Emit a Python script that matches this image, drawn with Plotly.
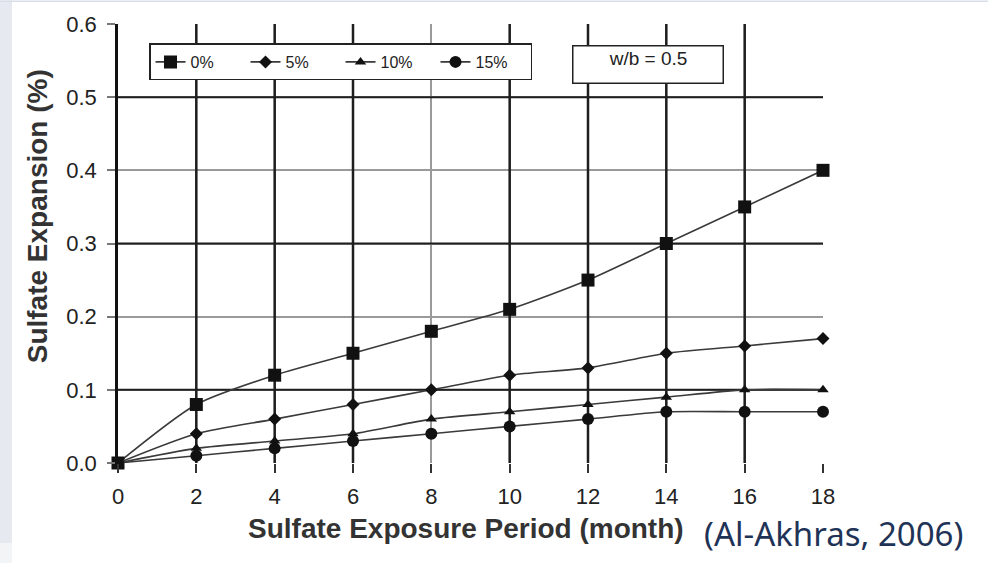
import plotly.graph_objects as go

# ---- data ----
months = [0, 2, 4, 6, 8, 10, 12, 14, 16, 18]
exp_0 = [0.0, 0.08, 0.12, 0.15, 0.18, 0.21, 0.25, 0.30, 0.35, 0.40]
exp_5 = [0.0, 0.04, 0.06, 0.08, 0.10, 0.12, 0.13, 0.15, 0.16, 0.17]
exp_10 = [0.0, 0.02, 0.03, 0.04, 0.06, 0.07, 0.08, 0.09, 0.10, 0.10]
exp_15 = [0.0, 0.01, 0.02, 0.03, 0.04, 0.05, 0.06, 0.07, 0.07, 0.07]
series_names = ["0%", "5%", "10%", "15%"]
x_ticks = [0, 2, 4, 6, 8, 10, 12, 14, 16, 18]
y_ticks = [0.0, 0.1, 0.2, 0.3, 0.4, 0.5, 0.6]
dark_x_grid = [2, 4, 6, 10, 12, 14, 16]
dark_y_grid = [0.1, 0.3, 0.5]

L, R, T, B = 118, 165, 23.5, 100
W, H = 988, 563
PW, PH = W - L - R, H - T - B


def px(xp):
    return (xp - L) / PW


def py(yp):
    return (H - B - yp) / PH


symbols = ["square", "diamond", "triangle-up", "circle"]
sizes = [13, 10, 10, 12]
fig = go.Figure()
for name, ys, sym, sz in zip(series_names, [exp_0, exp_5, exp_10, exp_15], symbols, sizes):
    fig.add_trace(go.Scatter(
        x=months, y=ys, name=name, mode="lines+markers",
        line=dict(color="#3a3a3a", width=1.6, shape="spline", smoothing=0.7),
        marker=dict(symbol=sym, size=sz, color="#111111", line=dict(width=0)),
        cliponaxis=False,
    ))

shapes = []
for xv in dark_x_grid:
    shapes.append(dict(type="line", xref="x", yref="y", x0=xv, x1=xv, y0=0, y1=0.6,
                       line=dict(color="#1e1e1e", width=2.5), layer="between"))
for yv in dark_y_grid:
    shapes.append(dict(type="line", xref="x", yref="y", x0=0, x1=18, y0=yv, y1=yv,
                       line=dict(color="#1e1e1e", width=2), layer="between"))
# page edge tint
shapes.append(dict(type="rect", xref="paper", yref="paper", x0=px(0), x1=px(12), y0=py(543), y1=py(0),
                   fillcolor="#e6eaf0", line=dict(width=0), layer="below"))
shapes.append(dict(type="rect", xref="paper", yref="paper", x0=px(0), x1=px(12), y0=py(563), y1=py(543),
                   fillcolor="#f3f4f6", line=dict(width=0), layer="below"))
shapes.append(dict(type="rect", xref="paper", yref="paper", x0=px(0), x1=px(988), y0=py(1.5), y1=py(0),
                   fillcolor="#d8dee8", line=dict(width=0), layer="below"))

annotations = [
    dict(text="<b>Sulfate Expansion (%)</b>", xref="paper", yref="paper", x=px(37), y=py(216),
         textangle=-90, showarrow=False, xanchor="center", yanchor="middle",
         font=dict(family="Liberation Sans, Arial", size=28, color="#333333")),
    dict(text="<b>Sulfate Exposure Period (month)</b>", xref="paper", yref="paper", x=px(466), y=py(529),
         showarrow=False, xanchor="center", yanchor="middle",
         font=dict(family="Liberation Sans, Arial", size=28, color="#333333")),
    dict(text="(Al-Akhras, 2006)", xref="paper", yref="paper", x=px(702), y=py(534),
         showarrow=False, xanchor="left", yanchor="middle",
         font=dict(family="Noto Sans", size=33, color="#1f3357")),
    dict(text="w/b = 0.5", xref="paper", yref="paper", x=px(648), y=py(64),
         showarrow=False, xanchor="center", yanchor="middle", width=147, height=34,
         valign="top", bgcolor="white", bordercolor="#222222", borderwidth=1.5, borderpad=1,
         font=dict(family="Liberation Sans, Arial", size=19, color="#222222")),
]

fig.update_layout(
    width=W, height=H, margin=dict(l=L, r=R, t=T, b=B),
    paper_bgcolor="white", plot_bgcolor="white",
    showlegend=True,
    legend=dict(orientation="h", x=px(149), y=py(43), xanchor="left", yanchor="top",
                bgcolor="white", bordercolor="#222222", borderwidth=1.5,
                font=dict(family="Liberation Sans, Arial", size=16, color="#222222"),
                entrywidth=50, itemwidth=30),
    shapes=shapes, annotations=annotations,
    xaxis=dict(range=[0, 18], tickvals=x_ticks, ticktext=[str(v) for v in x_ticks],
               showgrid=True, gridcolor="#9a9a9a", gridwidth=2, zeroline=False,
               ticks="outside", ticklen=9, tickwidth=2, tickcolor="#333333",
               ticklabelstandoff=5, showline=False,
               tickfont=dict(family="Liberation Sans, Arial", size=22, color="#222222")),
    yaxis=dict(range=[0, 0.6], tickvals=y_ticks, ticktext=[f"{v:.1f}" for v in y_ticks],
               showgrid=True, gridcolor="#9a9a9a", gridwidth=2, zeroline=False,
               ticks="outside", ticklen=8, tickwidth=2, tickcolor="#777777",
               ticklabelstandoff=6, showline=True, linecolor="#111111", linewidth=2.5,
               tickfont=dict(family="Liberation Sans, Arial", size=22, color="#222222")),
)

fig.write_html("out.html")
